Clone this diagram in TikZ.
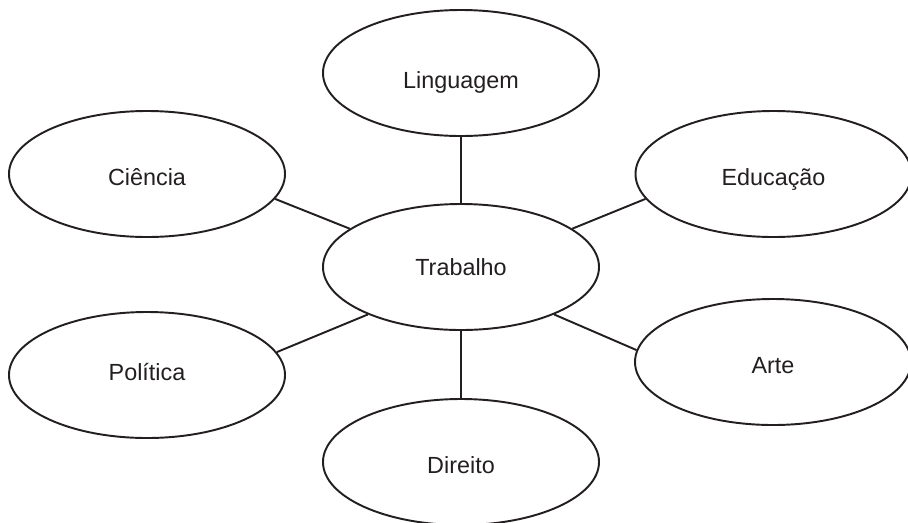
\documentclass[tikz,border=0pt]{standalone}
\usepackage{fontspec}
\setmainfont{Liberation Sans}
\usetikzlibrary{shapes.geometric}
\definecolor{MapInk}{HTML}{231F20}

\begin{document}
\begin{tikzpicture}[
  idea/.style={draw=MapInk, ellipse, line width=1.1pt, inner sep=0pt,
               minimum width=5.52cm, minimum height=2.52cm,
               text height=12.9pt, text depth=0pt,
               font=\fontsize{13.3}{16}\selectfont, text=MapInk},
  link/.style={draw=MapInk, line width=1.1pt}
]
\useasboundingbox (0,0) rectangle (18.16,-10.44);

% Central idea
\node[idea, text height=9.5pt] (trab) at (9.22,-5.34) {Trabalho};

% Surrounding ideas
\node[idea, text height=17.5pt] (ling) at (9.22,-1.46) {Linguagem};
\node[idea] (cien) at (2.94,-3.48) {Ciência};
\node[idea] (educ) at (15.47,-3.48) {Educação};
\node[idea, text height=6.7pt] (poli) at (2.94,-7.50) {Política};
\node[idea] (arte) at (15.46,-7.24) {Arte};
\node[idea] (dire) at (9.22,-9.24) {Direito};

% Links
\draw[link] (ling) -- (trab);
\draw[link] (trab) -- (dire);
\draw[link] (cien.-11) -- (trab.161);
\draw[link] (trab.19) -- (educ.-169);
\draw[link] (poli.10) -- (trab.-153);
\draw[link] (trab.-27) -- (arte.175);

\end{tikzpicture}
\end{document}
